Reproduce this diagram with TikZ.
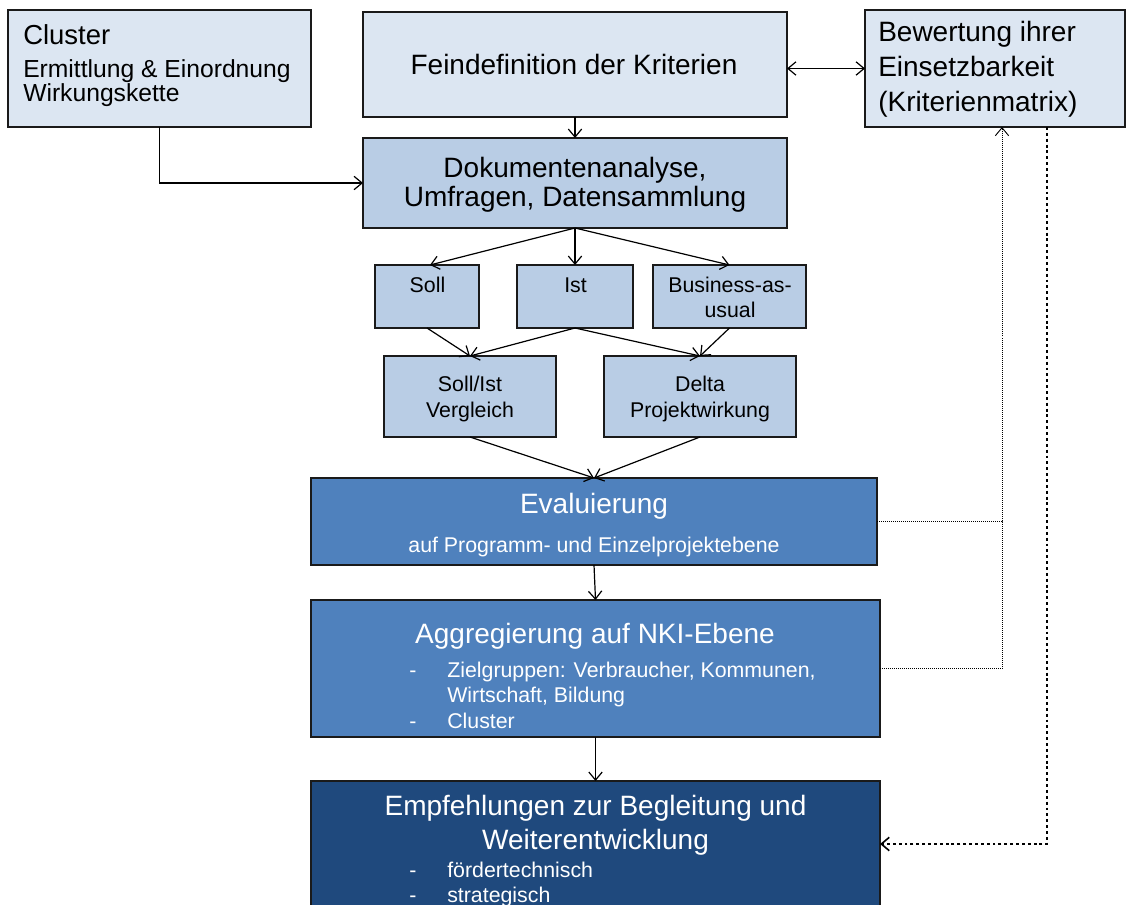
\documentclass[tikz,border=0pt]{standalone}
\usepackage{fontspec}
\setmainfont{Liberation Sans}
\usetikzlibrary{arrows.meta,calc}
\definecolor{lightbox}{HTML}{DCE6F2}
\definecolor{midbox}{HTML}{B9CDE5}
\definecolor{bluebox}{HTML}{4F81BD}
\definecolor{darkbox}{HTML}{1F497D}
\definecolor{edge}{HTML}{1A1A1A}
\tikzset{
  box/.style={draw=edge, line width=0.8pt, inner sep=0pt, outer sep=0pt, anchor=north west},
  lbox/.style={box, fill=lightbox},
  mbox/.style={box, fill=midbox},
  bbox/.style={box, fill=bluebox},
  dbox/.style={box, fill=darkbox},
  conn/.style={line width=0.9pt, -{Straight Barb[length=6pt,width=10pt]}},
  biconn/.style={line width=0.9pt, {Straight Barb[length=6pt,width=10pt]}-{Straight Barb[length=6pt,width=10pt]}},
  thindot/.style={line width=0.7pt, dash pattern=on 0.75pt off 0.75pt},
  thickdot/.style={line width=1.5pt, dash pattern=on 2.2pt off 2.2pt},
  big/.style={font=\fontsize{21}{25}\selectfont},
  mid/.style={font=\fontsize{18.5}{22}\selectfont},
  small/.style={font=\fontsize{16}{19}\selectfont},
  txt/.style={inner sep=0pt, anchor=base},
  txtl/.style={inner sep=0pt, anchor=base west},
}
\begin{document}
\begin{tikzpicture}[x=0.75pt,y=-0.75pt]
\useasboundingbox (0,0) rectangle (1126,905);
\clip (0,0) rectangle (1126,905);
% boxes
\node[lbox, minimum width=227.25pt, minimum height=87.75pt] (clu) at (8,10) {};
\node[lbox, minimum width=318pt, minimum height=78.75pt] (fein) at (363,12) {};
\node[lbox, minimum width=195pt, minimum height=87.75pt] (bew) at (865,10) {};
\node[mbox, minimum width=318pt, minimum height=67.5pt] (doku) at (363,138) {};
\node[mbox, minimum width=78pt, minimum height=47.25pt] (soll) at (375,265) {};
\node[mbox, minimum width=87pt, minimum height=47.25pt] (ist) at (517,265) {};
\node[mbox, minimum width=114.75pt, minimum height=47.25pt] (bau) at (653,265) {};
\node[mbox, minimum width=129pt, minimum height=60.75pt] (sollist) at (384,356) {};
\node[mbox, minimum width=144pt, minimum height=60.75pt] (delta) at (604,356) {};
\node[bbox, minimum width=424.5pt, minimum height=65.25pt] (eva) at (311,478) {};
\node[bbox, minimum width=426.75pt, minimum height=102.75pt] (agg) at (311,600) {};
\node[dbox, minimum width=426.75pt, minimum height=100.5pt] (emp) at (311,781) {};

% texts
\node[txtl, font=\fontsize{20.6}{24}\selectfont] (t1) at (23,45) {Cluster};
\node[txtl, mid] (t2) at (23,77.5) {Ermittlung \& Einordnung};
\node[txtl, mid] (t3) at (23,102) {Wirkungskette};
\node[txt, big] (t4) at (574,75) {Feindefinition der Kriterien};
\node[txtl, big] (t5) at (878,42) {Bewertung ihrer};
\node[txtl, big] (t6) at (878,77) {Einsetzbarkeit};
\node[txtl, big] (t7) at (878,112) {(Kriterienmatrix)};
\node[txt, big] (t8) at (575,178) {Dokumentenanalyse,};
\node[txt, big] (t9) at (575,207) {Umfragen, Datensammlung};
\node[txt, small] (t10) at (427.5,292.7) {Soll};
\node[txt, small] (t11) at (575.5,292.7) {Ist};
\node[txt, small] (t12) at (730,292.7) {Business-as-};
\node[txt, small] (t13) at (730,317.7) {usual};
\node[txt, small] (t14) at (470,391.7) {Soll/Ist};
\node[txt, small] (t15) at (470,417) {Vergleich};
\node[txt, small] (t16) at (700,391.7) {Delta};
\node[txt, small] (t17) at (700,417) {Projektwirkung};
\node[txt, big, text=white] (t18) at (594,513) {Evaluierung};
\node[txt, small, text=white] (t19) at (594,552) {auf Programm- und Einzelprojektebene};
\node[txt, big, text=white] (t20) at (595,643) {Aggregierung auf NKI-Ebene};
\node[txtl, small, text=white] (d1) at (409,677) {-};
\node[txtl, small, text=white] (t21) at (447,677) {Zielgruppen: Verbraucher, Kommunen,};
\node[txtl, small, text=white] (t22) at (447,702) {Wirtschaft, Bildung};
\node[txtl, small, text=white] (d2) at (409,728) {-};
\node[txtl, small, text=white] (t23) at (447,728) {Cluster};
\node[txt, big, text=white] (t24) at (595.5,815) {Empfehlungen zur Begleitung und};
\node[txt, big, text=white] (t25) at (595.5,849) {Weiterentwicklung};
\node[txtl, small, text=white] (d3) at (409,877) {-};
\node[txtl, small, text=white] (t26) at (447,877) {fördertechnisch};
\node[txtl, small, text=white] (d4) at (409,902) {-};
\node[txtl, small, text=white] (t27) at (447,902) {strategisch};

% connectors
\draw[conn] (fein.south) -- (doku.north);
\draw[conn] (clu.south) |- (doku.west);
\draw[biconn] (fein.east |- bew.west) -- (bew.west);
\draw[conn] (doku.south) -- ($(soll.north)+(3,0)$);
\draw[conn] (doku.south) -- (ist.north);
\draw[conn] (doku.south) -- (bau.north);
\draw[conn] (soll.south) -- (sollist.north);
\draw[conn] (ist.south) -- (sollist.north);
\draw[conn] (ist.south) -- (delta.north);
\draw[conn] (bau.south) -- (delta.north);
\draw[conn] (sollist.south) -- (eva.north);
\draw[conn] (delta.south) -- (eva.north);
\draw[conn] (eva.south) -- (agg.north);
\draw[conn] (agg.south) -- (emp.north);

\coordinate (tx) at ($(bew.south west)+(137,0)$);
\coordinate (j1) at (tx |- eva.east);
\draw[thindot, -{Straight Barb[length=6pt,width=10pt]}] (eva.east) -- (j1) -- (tx);
\draw[thindot] (agg.east) -| (j1);
\coordinate (ty) at ($(bew.south west)+(182,0)$);
\coordinate (j2) at (1047,844);
\draw[thickdot, -{Straight Barb[length=6pt,width=10pt,line width=1.2pt]}] (ty) -- (j2) -- (j2 -| emp.east);
\end{tikzpicture}
\end{document}
